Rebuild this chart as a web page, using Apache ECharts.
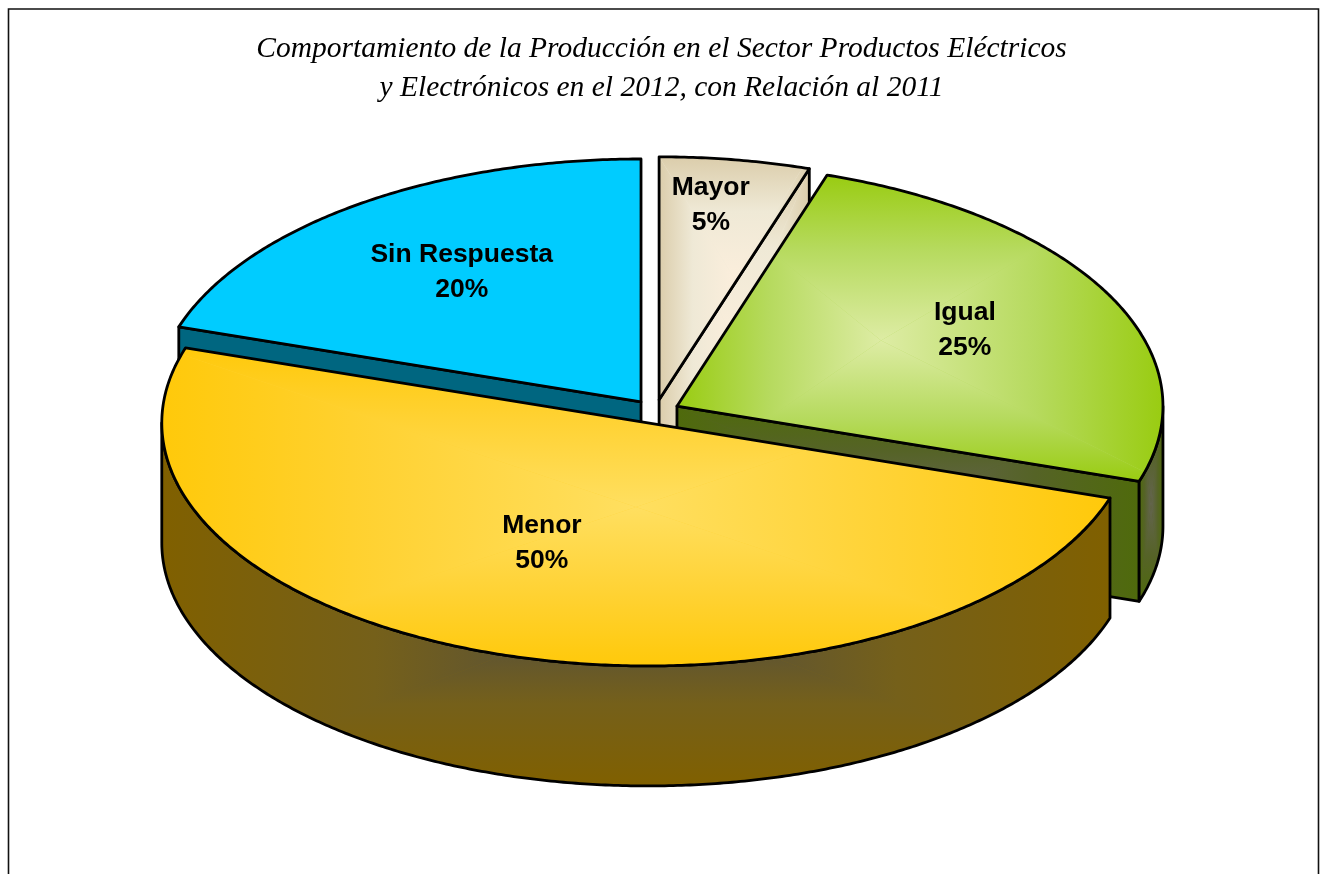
<!DOCTYPE html>
<html>
<head>
<meta charset="utf-8">
<title>Producción 2012</title>
<style>
  html, body { margin: 0; padding: 0; background: #fff; }
  #chart { width: 1320px; height: 874px; }
</style>
<script src="https://cdn.jsdelivr.net/npm/echarts@6/dist/echarts.min.js"></script>
</head>
<body>
<div id="chart"></div>
<script>
// data
var titleLines = [
  'Comportamiento de la Producción en el Sector Productos Eléctricos',
  'y Electrónicos en el 2012, con Relación al 2011'
];
var categories = ['Mayor', 'Igual', 'Menor', 'Sin Respuesta'];
var shares = [5, 25, 50, 20];

// colours: [edge, middle, centre] of the office style path gradient
var topColors = [
  ['#DBCDAB', '#EFE9D6', '#FBEEDC'],
  ['#99CC11', '#B6DA5E', '#DDECA4'],
  ['#FFC90A', '#FFD233', '#FFDF60'],
  ['#00CCFF', '#00CCFF', '#00CCFF']
];
var wallColors = [
  ['#DBCDAB', '#EFE9D6', '#FBEEDC'],
  ['#4F6A0C', '#556326', '#646450'],
  ['#806000', '#75601A', '#4E4C45'],
  ['#006680', '#006680', '#006680']
];

// layout of the tilted pie, in pixels
var baseX = 655.3, baseY = 411.6;
var radiusX = 486, radiusY = 243;
var depth = 120;
var explode = 24.3, explodeTilt = 0.49;
// label spot per slice: distance along the slice (0..1) and turn from its middle, degrees
var labelDist = [0.81, 0.669, 0.54, 0.65];
var labelTurn = [-1.45, -0.7, 5.8, 1.42];
// where the light centre of each top gradient sits inside its box
var topFocusX = [0.5, 0.42, 0.5, 0.5];
var topFocusY = [0.5, 0.54, 0.5, 0.5];

var total = shares.reduce(function (a, b) { return a + b; }, 0);
var slices = [];
var acc = 0;
shares.forEach(function (v, i) {
  var a0 = acc / total * 360;
  acc += v;
  var a1 = acc / total * 360;
  var mid = (a0 + a1) / 2 * Math.PI / 180;
  slices.push({
    index: i,
    a0: a0,
    a1: a1,
    mid: (a0 + a1) / 2,
    cx: baseX + explode * Math.sin(mid),
    cy: baseY - explode * explodeTilt * Math.cos(mid)
  });
});
// painter's order: slices further back first
var drawOrder = slices.slice().sort(function (a, b) { return a.cy - b.cy; });

function rimPoint(s, deg, drop) {
  var r = deg * Math.PI / 180;
  return [s.cx + radiusX * Math.sin(r), s.cy - radiusY * Math.cos(r) + (drop || 0)];
}

function arcPoints(s, from, to, drop) {
  var pts = [];
  var n = Math.max(2, Math.ceil(Math.abs(to - from) * 2));
  for (var i = 0; i <= n; i++) {
    pts.push(rimPoint(s, from + (to - from) * i / n, drop));
  }
  return pts;
}

function bounds(pts) {
  var xs = pts.map(function (p) { return p[0]; });
  var ys = pts.map(function (p) { return p[1]; });
  return { x0: Math.min.apply(null, xs), x1: Math.max.apply(null, xs), y0: Math.min.apply(null, ys), y1: Math.max.apply(null, ys) };
}

function gradStops(c) {
  return [{ offset: 0, color: c[0] }, { offset: 0.45, color: c[1] }, { offset: 1, color: c[2] }];
}

// rectangular path gradient, clipped to the polygon, with the black outline on top
function shadedPolygon(pts, colors, fx, fy) {
  var b = bounds(pts);
  var mx = b.x0 + (b.x1 - b.x0) * (fx === undefined ? 0.5 : fx);
  var my = b.y0 + (b.y1 - b.y0) * (fy === undefined ? 0.5 : fy);
  var stops = gradStops(colors);
  var LG = echarts.graphic.LinearGradient;
  var tl = [b.x0, b.y0], tr = [b.x1, b.y0], br = [b.x1, b.y1], bl = [b.x0, b.y1], m = [mx, my];
  var pieces = [
    { pts: [tl, tr, m], fill: new LG(0, b.y0, 0, my, stops, true) },
    { pts: [tr, br, m], fill: new LG(b.x1, 0, mx, 0, stops, true) },
    { pts: [br, bl, m], fill: new LG(0, b.y1, 0, my, stops, true) },
    { pts: [bl, tl, m], fill: new LG(b.x0, 0, mx, 0, stops, true) }
  ];
  var children = [{
    type: 'polygon',
    shape: { points: pts },
    style: { fill: colors[1] }
  }];
  pieces.forEach(function (p) {
    children.push({ type: 'polygon', shape: { points: p.pts }, style: { fill: p.fill } });
  });
  return [
    { type: 'group', clipPath: { type: 'polygon', shape: { points: pts } }, children: children },
    {
      type: 'polygon',
      shape: { points: pts },
      style: { fill: 'none', stroke: '#000', lineWidth: 2.8, lineJoin: 'round' }
    }
  ];
}

function renderSlice(params) {
  var s = drawOrder[params.dataIndex];
  var children = [];
  var top = [[s.cx, s.cy]].concat(arcPoints(s, s.a0, s.a1));
  var wc = wallColors[s.index];

  // cut faces that look towards the viewer
  if (Math.sin(s.a1 * Math.PI / 180) > 0.001) {
    var e1 = rimPoint(s, s.a1);
    children = children.concat(shadedPolygon(
      [[s.cx, s.cy], e1, [e1[0], e1[1] + depth], [s.cx, s.cy + depth]], wc));
  }
  if (Math.sin(s.a0 * Math.PI / 180) < -0.001) {
    var e0 = rimPoint(s, s.a0);
    children = children.concat(shadedPolygon(
      [[s.cx, s.cy], e0, [e0[0], e0[1] + depth], [s.cx, s.cy + depth]], wc));
  }
  // outer rim, only the front half shows
  var from = Math.max(s.a0, 90), to = Math.min(s.a1, 270);
  if (to > from) {
    var rim = arcPoints(s, from, to).concat(arcPoints(s, to, from, depth));
    children = children.concat(shadedPolygon(rim, wc));
  }
  children = children.concat(shadedPolygon(top, topColors[s.index], topFocusX[s.index], topFocusY[s.index]));

  var la = (s.mid + labelTurn[s.index]) * Math.PI / 180;
  var d = labelDist[s.index];
  children.push({
    type: 'text',
    style: {
      text: categories[s.index] + '\n' + shares[s.index] + '%',
      x: s.cx + radiusX * d * Math.sin(la),
      y: s.cy - radiusY * d * Math.cos(la),
      align: 'center',
      verticalAlign: 'middle',
      fill: '#000',
      font: 'bold 26.5px "Liberation Sans", Arial, sans-serif',
      lineHeight: 35
    }
  });
  return { type: 'group', children: children };
}

var chart = echarts.init(document.getElementById('chart'), null, { renderer: 'canvas' });
chart.setOption({
  animation: false,
  backgroundColor: '#fff',
  title: {
    text: titleLines.join('\n'),
    left: 656.5,
    top: 25,
    textAlign: 'center',
    textStyle: {
      fontFamily: '"Liberation Serif", "Times New Roman", serif',
      fontStyle: 'italic',
      fontWeight: 'normal',
      fontSize: 29.5,
      lineHeight: 38.5,
      color: '#000'
    }
  },
  graphic: [{
    type: 'rect',
    silent: true,
    shape: { x: 8.5, y: 9, width: 1310, height: 900 },
    style: { fill: 'none', stroke: '#111', lineWidth: 1.6 }
  }],
  series: [{
    type: 'custom',
    coordinateSystem: 'none',
    silent: true,
    clip: false,
    renderItem: renderSlice,
    data: drawOrder.map(function (s) { return shares[s.index]; })
  }]
});
</script>
</body>
</html>
